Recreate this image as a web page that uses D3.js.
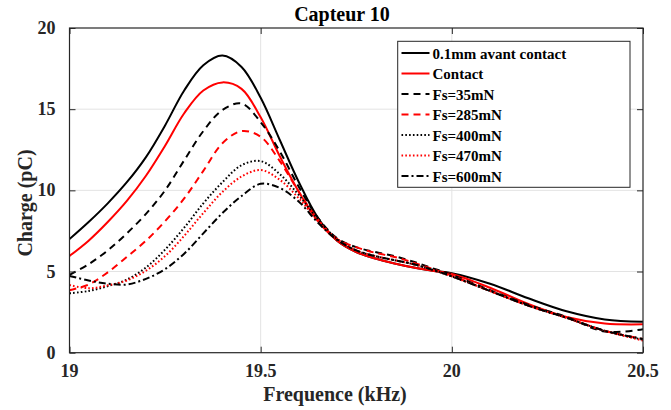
<!DOCTYPE html>
<html><head><meta charset="utf-8">
<script src="https://cdn.jsdelivr.net/npm/d3@7"></script>
<style>body{margin:0;background:#fff}svg{display:block}text{font-family:"Liberation Serif","Times New Roman",serif;font-weight:bold;fill:#262626}</style>
</head><body>
<script>
const freq = [19.00,19.05,19.10,19.15,19.20,19.25,19.30,19.35,19.40,19.45,19.50,19.55,19.60,19.65,19.70,19.75,19.80,19.85,19.90,19.95,20.00,20.10,20.20,20.30,20.40,20.50];
const seriesNames = ["0.1mm avant contact","Contact","Fs=35mN","Fs=285mN","Fs=400mN","Fs=470mN","Fs=600mN"];
const avantContact = [7.0,8.05,9.2,10.5,12.05,14.0,16.15,17.7,18.3,17.6,15.7,13.1,10.5,8.3,6.9,6.2,5.8,5.5,5.25,5.05,4.9,4.25,3.35,2.55,2.05,1.9];
const contact      = [5.96,6.9,8.05,9.35,10.9,12.75,14.75,16.15,16.65,16.25,14.5,12.1,9.9,8.1,6.9,6.2,5.8,5.5,5.25,5.05,4.85,4.0,3.0,2.2,1.8,1.75];
const fs35         = [4.8,5.45,6.3,7.35,8.55,10.0,11.85,13.65,14.95,15.35,14.2,12.4,10.2,8.3,7.05,6.5,6.2,5.95,5.6,5.2,4.8,3.85,2.95,2.2,1.3,1.45];
const fs285        = [3.85,4.2,4.95,5.9,6.9,8.1,9.5,11.2,12.9,13.65,13.3,11.8,9.9,8.2,7.0,6.5,6.15,5.9,5.55,5.15,4.75,3.8,2.9,2.15,1.35,0.85];
const fs400        = [3.66,3.8,4.1,4.5,5.25,6.35,7.7,9.2,10.5,11.55,11.8,11.0,9.7,8.2,7.0,6.3,5.95,5.7,5.45,5.1,4.7,3.8,2.9,2.15,1.35,0.8];
const fs470        = [4.17,3.97,4.15,4.45,5.05,5.95,7.2,8.6,9.9,10.85,11.25,10.65,9.5,8.1,7.0,6.3,5.95,5.7,5.45,5.1,4.7,3.8,2.9,2.15,1.35,0.75];
const fs600        = [4.73,4.45,4.25,4.2,4.55,5.15,6.1,7.35,8.6,9.65,10.4,10.15,9.3,8.0,6.95,6.3,5.95,5.7,5.45,5.1,4.7,3.8,2.9,2.15,1.35,0.85];
const seriesValues = [avantContact,contact,fs35,fs285,fs400,fs470,fs600];
const seriesColors = ["#000","#ff0000","#000","#ff0000","#000","#ff0000","#000"];
const seriesDash   = [null,null,"7,5","7,5","1.6,2.2","1.6,2.2","7,3,2,3"];
const xTicks = [19,19.5,20,20.5];
const yTicks = [0,5,10,15,20];
const title = "Capteur 10", xLabel = "Frequence (kHz)", yLabel = "Charge (pC)";

const W=671,H=410, L=69.5, R=643, T=28, B=352.7;
const svg = d3.select("body").append("svg").attr("width",W).attr("height",H);
const x = d3.scaleLinear().domain([19,20.5]).range([L,R]);
const y = d3.scaleLinear().domain([0,20]).range([B,T]);

// grid
svg.append("g").selectAll("line").data(xTicks.slice(1,-1)).join("line")
  .attr("x1",d=>x(d)).attr("x2",d=>x(d)).attr("y1",T).attr("y2",B).attr("stroke","#e3e3e3").attr("stroke-width",1);
svg.append("g").selectAll("line").data(yTicks.slice(1,-1)).join("line")
  .attr("y1",d=>y(d)).attr("y2",d=>y(d)).attr("x1",L).attr("x2",R).attr("stroke","#e3e3e3").attr("stroke-width",1);

// lines
const line = d3.line().x((d,i)=>x(freq[i])).y(d=>y(d)).curve(d3.curveCatmullRom.alpha(0.5));
svg.append("clipPath").attr("id","c").append("rect").attr("x",L).attr("y",T).attr("width",R-L).attr("height",B-T);
const lg = svg.append("g").attr("clip-path","url(#c)");
seriesValues.forEach((vals,k)=>{
  lg.append("path").attr("d",line(vals)).attr("fill","none").attr("stroke",seriesColors[k])
    .attr("stroke-width",2).attr("stroke-dasharray",seriesDash[k]);
});

// axes (ticks inward)
const ax = (g,axis)=>{g.call(axis); g.select(".domain").remove(); g.selectAll("text").remove(); g.selectAll("line").attr("stroke","#262626");};
svg.append("g").attr("transform",`translate(0,${B})`).call(g=>ax(g,d3.axisTop(x).tickValues(xTicks).tickSize(6)));
svg.append("g").attr("transform",`translate(0,${T})`).call(g=>ax(g,d3.axisBottom(x).tickValues(xTicks).tickSize(6)));
svg.append("g").attr("transform",`translate(${L},0)`).call(g=>ax(g,d3.axisRight(y).tickValues(yTicks).tickSize(6)));
svg.append("g").attr("transform",`translate(${R},0)`).call(g=>ax(g,d3.axisLeft(y).tickValues(yTicks).tickSize(6)));
svg.append("rect").attr("x",L).attr("y",T).attr("width",R-L).attr("height",B-T).attr("fill","none").attr("stroke","#262626").attr("stroke-width",1.2);

// tick labels
svg.append("g").selectAll("text").data(xTicks).join("text")
  .attr("x",d=>x(d)).attr("y",377).attr("text-anchor","middle").attr("font-size",18).text(d=>d);
svg.append("g").selectAll("text").data(yTicks).join("text")
  .attr("x",L-14).attr("y",d=>y(d)+6).attr("text-anchor","end").attr("font-size",18).text(d=>d);

// titles
svg.append("text").attr("x",342).attr("y",21).attr("text-anchor","middle").attr("font-size",20).style("fill","#000").text(title);
svg.append("text").attr("x",335).attr("y",401).attr("text-anchor","middle").attr("font-size",20).text(xLabel);
svg.append("text").attr("transform","translate(32,203) rotate(-90)").attr("text-anchor","middle").attr("font-size",20).text(yLabel);

// legend
const leg = svg.append("g");
leg.append("rect").attr("x",397.7).attr("y",41.3).attr("width",232.3).attr("height",146).attr("fill","#fff").attr("stroke","#262626").attr("stroke-width",1);
seriesNames.forEach((n,k)=>{
  const cy = 53 + k*20.5;
  leg.append("line").attr("x1",401.5).attr("x2",429.5).attr("y1",cy).attr("y2",cy)
    .attr("stroke",seriesColors[k]).attr("stroke-width",2).attr("stroke-dasharray",seriesDash[k]);
  leg.append("text").attr("x",432.5).attr("y",cy+5.5).attr("font-size",15).style("fill","#000").text(n);
});
</script>
</body></html>
